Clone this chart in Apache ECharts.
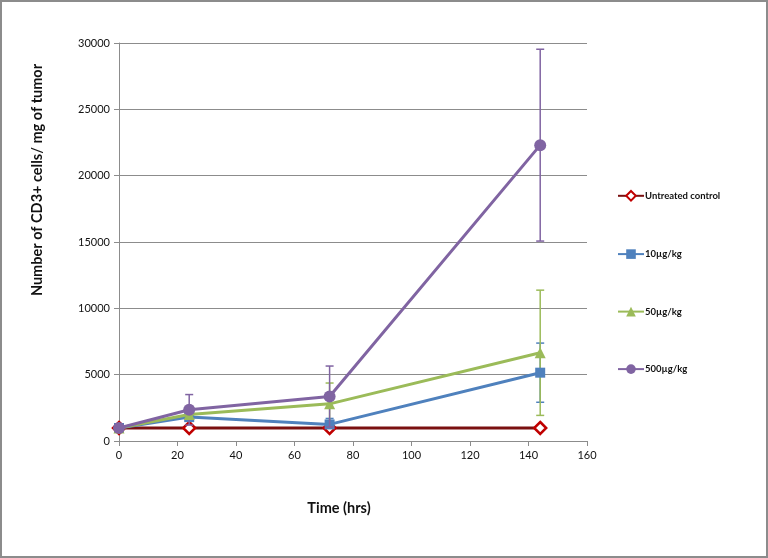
<!DOCTYPE html>
<html>
<head>
<meta charset="utf-8">
<script src="https://cdn.jsdelivr.net/npm/echarts@6/dist/echarts.min.js"></script>
<style>
html,body{margin:0;padding:0;background:#fff;}
#frame{position:absolute;left:0;top:0;width:764px;height:554px;border:2px solid #8c8c8c;}
#chart{position:absolute;left:0;top:0;width:768px;height:558px;}
</style>
</head>
<body>
<div id="frame"></div>
<div id="chart"></div>
<script>
const times = [0, 24, 72, 144];
const seriesNames = ['Untreated control', '10\u00b5g/kg', '50\u00b5g/kg', '500\u00b5g/kg'];
const controlVals = [980, 980, 980, 980];
const tenVals = [980, 1800, 1250, 5150];
const fiftyVals = [980, 2000, 2800, 6650];
const fiveHundredVals = [980, 2350, 3350, 22300];
const controlErr = [0, 0, 0, 0];
const tenErr = [0, 250, 450, 2230];
const fiftyErr = [0, 300, 1570, 4720];
const fiveHundredErr = [0, 1150, 2300, 7230];
const xTicks = [0, 20, 40, 60, 80, 100, 120, 140, 160];
const yTicks = [0, 5000, 10000, 15000, 20000, 25000, 30000];
const xTitle = 'Time (hrs)';
const yTitle = 'Number of CD3+ cells/ mg of tumor';

const colors = ['#C0504D', '#4F81BD', '#9BBB59', '#8064A2'];
const lineColors = ['#7a1010', '#4F81BD', '#9BBB59', '#8064A2'];
const symbols = ['diamond', 'rect', 'triangle', 'circle'];
const symbolSizes = [12, 10, 11, 12];
const vals = [controlVals, tenVals, fiftyVals, fiveHundredVals];
const errs = [controlErr, tenErr, fiftyErr, fiveHundredErr];

const chart = echarts.init(document.getElementById('chart'));
const FONT = 'Lato';

const series = [];
vals.forEach((v, i) => {
  series.push({
    name: seriesNames[i],
    type: 'line',
    data: times.map((t, k) => [t, v[k]]),
    symbol: symbols[i],
    symbolSize: symbolSizes[i],
    showAllSymbol: true,
    z: 3 + i,
    lineStyle: { color: lineColors[i], width: 3 },
    itemStyle: i === 0
      ? { color: '#fff', borderColor: '#C00000', borderWidth: 2.5 }
      : { color: colors[i], borderColor: colors[i], borderWidth: 0 },
    emphasis: { disabled: true },
    animation: false
  });
  series.push({
    name: 'err' + i,
    type: 'custom',
    z: 2 + i,
    data: times.map((t, k) => [t, v[k] - errs[i][k], v[k] + errs[i][k]]),
    renderItem: function (params, api) {
      const x = api.value(0);
      const lo = api.coord([x, api.value(1)]);
      const hi = api.coord([x, api.value(2)]);
      if (Math.abs(lo[1] - hi[1]) < 0.5) return null;
      const cw = 4;
      const st = { stroke: colors[i], lineWidth: 1.5 };
      return {
        type: 'group',
        children: [
          { type: 'line', shape: { x1: hi[0], y1: hi[1], x2: lo[0], y2: lo[1] }, style: st },
          { type: 'line', shape: { x1: hi[0] - cw, y1: hi[1], x2: hi[0] + cw, y2: hi[1] }, style: st },
          { type: 'line', shape: { x1: lo[0] - cw, y1: lo[1], x2: lo[0] + cw, y2: lo[1] }, style: st }
        ]
      };
    },
    animation: false
  });
});

chart.setOption({
  animation: false,
  textStyle: { fontFamily: FONT },
  grid: { left: 119, right: 181, top: 43, bottom: 117 },
  legend: {
    data: seriesNames,
    orient: 'vertical',
    left: 612,
    top: 185,
    itemGap: 47.5,
    itemWidth: 26,
    itemHeight: 12,
    textStyle: { fontFamily: FONT, fontSize: 9.5, fontWeight: 'bold', color: '#111', padding: [0, 0, 0, -4] },
    selectedMode: false
  },
  graphic: [
    { type: 'text', x: 37, y: 180, rotation: Math.PI / 2,
      style: { text: yTitle, font: 'bold 14.5px Lato', fill: '#111', align: 'center', verticalAlign: 'middle' } },
    { type: 'text', x: 339, y: 508,
      style: { text: xTitle, font: 'bold 14.5px Lato', fill: '#111', align: 'center', verticalAlign: 'middle' } }
  ],
  xAxis: {
    type: 'value',
    min: 0, max: 160, interval: 20,
    axisLine: { show: true, onZero: false, lineStyle: { color: '#8c8c8c', width: 1 } },
    axisTick: { show: true, length: 5, lineStyle: { color: '#8c8c8c' } },
    axisLabel: { fontFamily: FONT, fontSize: 11, color: '#111', margin: 9,
      formatter: v => xTicks.includes(v) ? String(v) : '' },
    splitLine: { show: false }
  },
  yAxis: {
    type: 'value',
    min: 0, max: 30000, interval: 5000,
    axisLine: { show: true, lineStyle: { color: '#8c8c8c', width: 1 } },
    axisTick: { show: true, length: 5, lineStyle: { color: '#8c8c8c' } },
    axisLabel: { fontFamily: FONT, fontSize: 11, color: '#111', margin: 9,
      formatter: v => yTicks.includes(v) ? String(v) : '' },
    splitLine: { show: true, lineStyle: { color: '#8c8c8c', width: 1 } }
  },
  series: series
});
</script>
</body>
</html>
